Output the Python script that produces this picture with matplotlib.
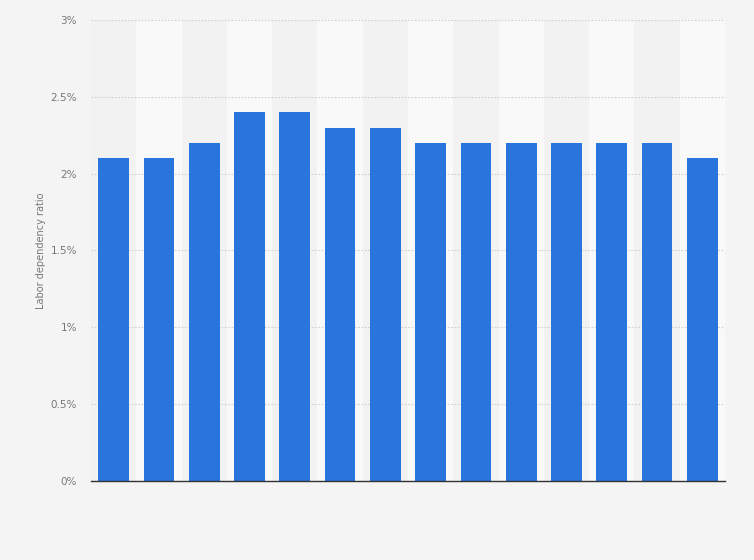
import matplotlib.pyplot as plt
from matplotlib.ticker import FuncFormatter

# bar values (percent), no x labels shown
positions = list(range(14))
ratios = [2.1, 2.1, 2.2, 2.4, 2.4, 2.3, 2.3, 2.2, 2.2, 2.2, 2.2, 2.2, 2.2, 2.1]
y_ticks = [0, 0.5, 1, 1.5, 2, 2.5, 3]

bg = "#f4f4f4"
fig = plt.figure(figsize=(7.54, 5.6), dpi=100, facecolor=bg)
ax = fig.add_axes([0.1207, 0.1411, 0.8408, 0.8232])
ax.set_facecolor("#f2f2f2")

# alternating column bands
for p in positions:
    if p % 2 == 1:
        ax.axvspan(p - 0.5, p + 0.5, color="#f9f9f9", zorder=0, lw=0)

ax.bar(positions, ratios, width=0.68, color="#2876dd", zorder=3)

ax.set_xlim(-0.5, len(positions) - 0.5)
ax.set_ylim(0, 3)
ax.set_yticks(y_ticks)
ax.yaxis.set_major_formatter(FuncFormatter(lambda v, _: f"{v:g}%"))
ax.set_xticks([])
ax.tick_params(axis="y", length=0, pad=10, labelsize=7.5, labelcolor="#777777")
ax.grid(axis="y", color="#d0d0d0", linestyle=(0, (1.5, 1.5)), linewidth=0.8, zorder=1)

for side in ["top", "right", "left"]:
    ax.spines[side].set_visible(False)
ax.spines["bottom"].set_color("#333333")
ax.spines["bottom"].set_linewidth(1.0)
ax.spines["bottom"].set_zorder(4)

ax.set_ylabel("Labor dependency ratio", fontsize=7, color="#777777", labelpad=3)

plt.savefig("out.png", dpi=100, facecolor=bg)
